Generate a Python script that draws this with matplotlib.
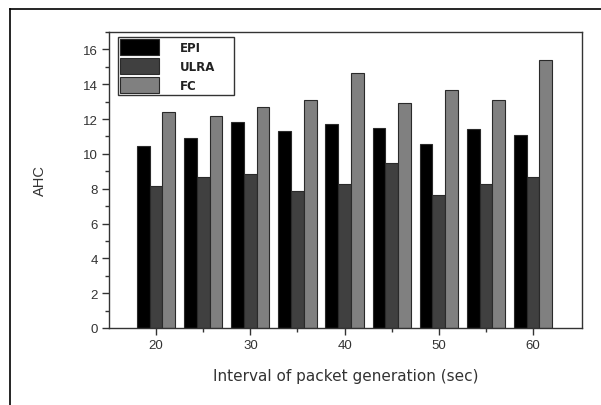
import matplotlib
matplotlib.use("Agg")
import matplotlib.pyplot as plt
from matplotlib.lines import Line2D
from matplotlib.ticker import MultipleLocator, FixedLocator
import numpy as np

intervals = [20, 25, 30, 35, 40, 45, 50, 55, 60]
epi = [10.45, 10.91, 11.83, 11.34, 11.74, 11.51, 10.57, 11.43, 11.09]
ulra = [8.16, 8.70, 8.83, 7.87, 8.26, 9.46, 7.66, 8.26, 8.68]
fc = [12.38, 12.16, 12.67, 13.11, 14.62, 12.90, 13.66, 13.07, 15.37]
series_names = ["EPI", "ULRA", "FC"]
x_ticks = [20, 30, 40, 50, 60]
x_minor = [25, 35, 45, 55]

fig = plt.figure(figsize=(6.01, 4.06), dpi=100)
ax = fig.add_axes([0.1814, 0.1897, 0.7870, 0.7290])

x = np.array(intervals, dtype=float)
w = 1.35
colors = ["#000000", "#404040", "#808080"]
for i, (vals, name, c) in enumerate(zip([epi, ulra, fc], series_names, colors)):
    ax.bar(x + (i - 1) * w, vals, width=w, color=c, edgecolor="#2a2a2a",
           linewidth=0.8, label=name)

ax.set_xlim(15, 65.2)
ax.set_ylim(0, 17)
ax.set_xticks(x_ticks)
ax.xaxis.set_minor_locator(FixedLocator(x_minor))
ax.yaxis.set_major_locator(MultipleLocator(2))
ax.yaxis.set_minor_locator(MultipleLocator(1))

for lab in ax.get_xticklabels() + ax.get_yticklabels():
    lab.set_fontfamily("Liberation Sans")
    lab.set_fontsize(9.5)
    lab.set_color("#333333")

ax.tick_params(axis="both", which="major", direction="out", length=5,
               width=1.0, color="#333333", pad=3)
ax.tick_params(axis="both", which="minor", direction="out", length=3,
               width=1.0, color="#333333")

for s in ax.spines.values():
    s.set_color("#333333")
    s.set_linewidth(1.0)

ax.set_ylabel("AHC", fontfamily="Liberation Sans", fontsize=10.5,
              color="#333333", labelpad=26)
ax.set_xlabel("Interval of packet generation (sec)", fontfamily="DejaVu Sans",
              fontsize=11, color="#333333", labelpad=12)

leg = ax.legend(loc="upper left", bbox_to_anchor=(0.019, 0.80, 0.245, 0.183),
                mode="expand",
                prop={"family": "DejaVu Sans", "weight": "bold", "size": 8.5},
                handlelength=3.3, handleheight=1.75, labelspacing=0.22,
                handletextpad=1.8, borderpad=0.15, borderaxespad=0.0,
                fancybox=False, framealpha=1.0)
leg.get_frame().set_edgecolor("#333333")
leg.get_frame().set_linewidth(1.0)
for t in leg.get_texts():
    t.set_color("#222222")

# outer frame around the figure
fig.add_artist(Line2D([0.0166, 0.0166], [0.0, 0.9754], color="black", lw=1.2,
                      transform=fig.transFigure))
fig.add_artist(Line2D([0.0166, 1.0], [0.9754, 0.9754], color="black", lw=1.2,
                      transform=fig.transFigure))

fig.savefig("out.png", dpi=100)
